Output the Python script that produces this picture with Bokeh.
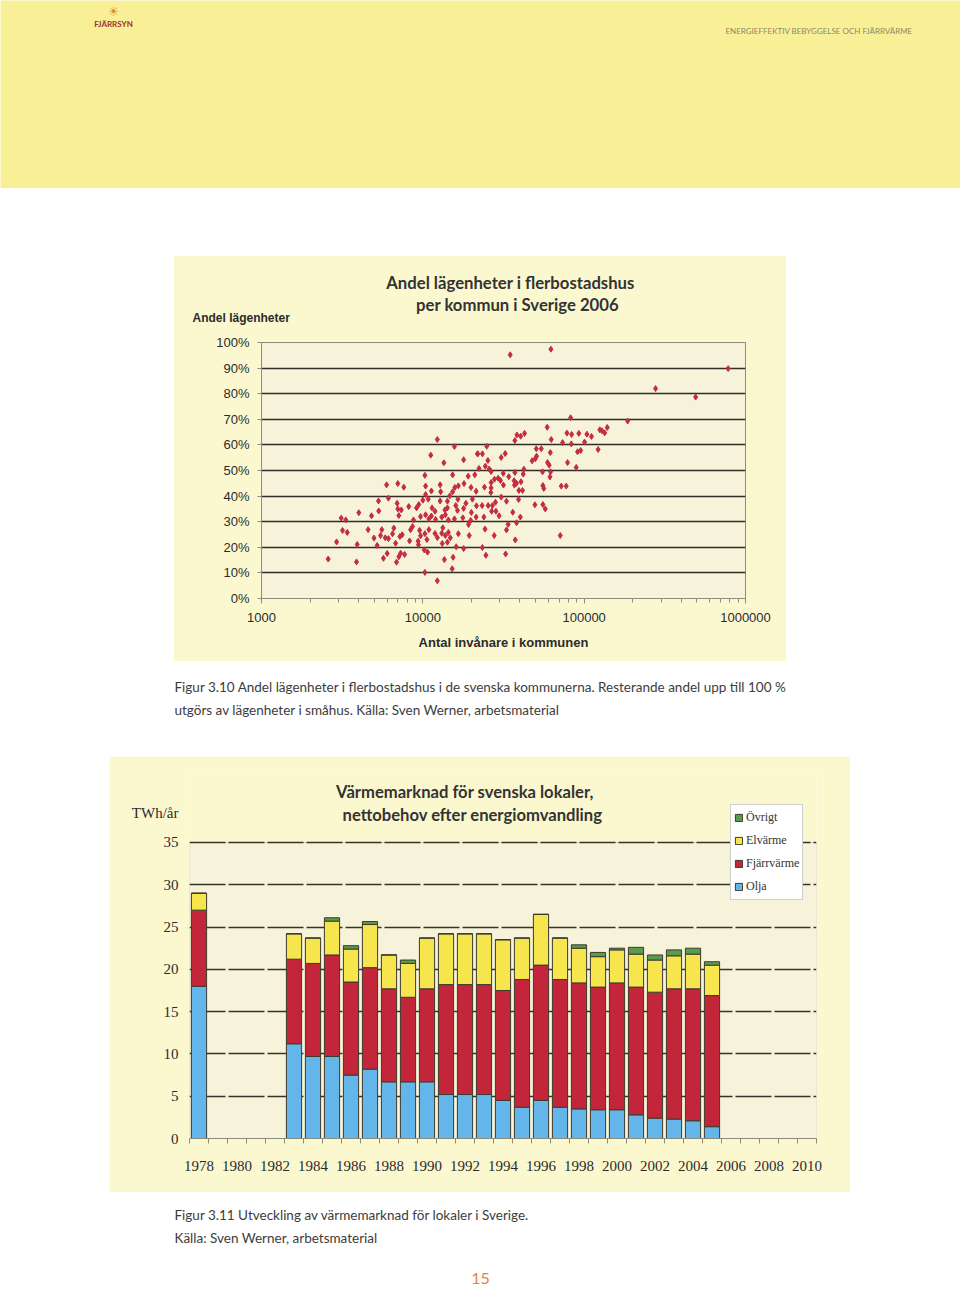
from bokeh.plotting import figure
from bokeh.models import (Range1d, FixedTicker, PrintfTickFormatter, Label, Legend,
                          LegendItem, Spacer, ColumnDataSource, BoxAnnotation)
from bokeh.layouts import column, row
from bokeh.embed import file_html
from bokeh.resources import INLINE
from bokeh.core.properties import value

# ---------------- data: scatter (inhabitants, share of flats in multi-dwelling buildings, %)
population = [
    12300, 15700, 11200, 13500, 17900, 21800, 10300, 15300, 19100, 21000,
    5960, 7000, 7620, 6120, 5310, 10400, 11300, 12800, 12900, 15800,
    16600, 15300, 18000, 19900, 21400, 10400, 10800, 12800, 14700, 14200,
    16500, 18500, 20300, 21500, 6930, 7000, 7350, 8180, 9140, 9440,
    10000, 11400, 11900, 13700, 14200, 16000, 16400, 17900, 20000, 4010,
    3120, 3330, 4810, 5330, 7100, 9680, 8750, 10400, 10900, 11300,
    12000, 13100, 13800, 14400, 15700, 17700, 19800, 19200, 21400, 3180,
    3400, 4580, 5570, 5470, 5850, 6120, 6610, 6490, 7210, 7450,
    8400, 8630, 9550, 9680, 9350, 10300, 10600, 10900, 11900, 12300,
    13100, 13300, 13800, 14400, 14800, 14200, 13200, 16600, 19400, 2920,
    3920, 4980, 5210, 6780, 8280, 9400, 10200, 10700, 16100, 17900,
    2590, 3880, 5700, 6010, 7100, 7280, 7710, 6870, 13600, 15400,
    15200, 10300, 12300,
    82400, 186000, 59000, 38300, 40400, 42700, 37200, 62500, 78200, 83600,
    92700, 104000, 111000, 125000, 129000, 134000, 139000, 73500, 83200, 100500,
    91000, 95100, 122000, 24900, 21900, 23400, 50500, 54200, 61700, 30600,
    32400, 47600, 50700, 49800, 59300, 60700, 78900, 89300, 25300, 25800,
    26500, 22300, 24400, 31500, 29300, 27800, 30300, 31600, 34100, 37200,
    42300, 41900, 36800, 38100, 40600, 37000, 55200, 61900, 61400, 55500,
    56200, 72100, 77400, 26500, 26500, 26400, 24100, 39400, 41500, 39200,
    30600, 33000, 49500, 55500, 57400, 23300, 25400, 27000, 28200, 26700,
    28400, 29700, 36100, 40200, 23900, 33800, 38100, 33000, 24300, 27700,
    37400, 71100, 23400, 24600, 32600,
    34800, 62200, 277000, 491000, 781000,
]
share = [
    62.1, 59.4, 56.0, 53.0, 54.2, 56.5, 48.1, 48.3, 47.8, 48.3,
    44.4, 44.9, 43.5, 39.2, 38.1, 43.9, 42.0, 44.4, 41.7, 43.4,
    44.0, 41.7, 44.9, 43.4, 41.9, 40.6, 38.8, 38.1, 40.1, 38.0,
    38.8, 37.2, 38.8, 36.2, 37.2, 35.0, 34.6, 35.9, 35.4, 36.7,
    38.4, 35.4, 34.1, 34.6, 35.4, 36.3, 34.4, 35.2, 33.6, 33.5,
    31.4, 30.7, 32.3, 34.2, 32.4, 32.0, 30.7, 32.7, 31.1, 32.2,
    30.9, 31.8, 32.7, 30.7, 31.1, 31.5, 30.5, 28.9, 31.8, 26.6,
    25.8, 26.9, 26.9, 24.6, 23.7, 23.4, 27.5, 25.3, 24.2, 24.9,
    26.9, 28.1, 26.6, 24.5, 22.4, 25.3, 23.0, 26.9, 25.4, 23.8,
    25.5, 27.6, 24.6, 25.8, 23.7, 22.0, 21.5, 25.3, 24.6, 22.1,
    21.1, 23.6, 20.7, 21.6, 22.5, 21.0, 19.0, 18.1, 20.2, 19.5,
    15.4, 14.3, 15.7, 17.6, 16.3, 17.7, 17.2, 14.2, 15.2, 16.1,
    11.6, 10.2, 6.9,
    70.6, 69.3, 66.9, 63.9, 63.4, 64.5, 61.7, 62.1, 64.6, 64.1,
    64.5, 64.2, 63.3, 65.9, 65.5, 64.7, 66.8, 60.9, 60.4, 61.1,
    57.3, 57.8, 58.2, 59.5, 56.5, 56.5, 58.5, 58.5, 57.0, 55.1,
    56.6, 53.8, 55.6, 54.6, 53.1, 52.1, 53.1, 51.2, 53.9, 50.6,
    49.6, 50.8, 51.7, 48.9, 47.0, 46.6, 46.1, 44.3, 47.6, 49.2,
    50.5, 48.6, 46.0, 45.0, 45.6, 44.3, 49.5, 49.5, 47.5, 44.1,
    43.0, 43.9, 43.9, 45.3, 43.2, 41.4, 43.5, 42.2, 42.2, 38.7,
    39.6, 38.0, 36.6, 36.7, 35.0, 36.3, 36.3, 36.3, 37.6, 34.1,
    34.1, 32.3, 33.7, 31.8, 31.8, 29.0, 29.6, 26.8, 27.1, 24.6,
    22.9, 24.6, 19.9, 16.9, 17.4,
    95.2, 97.4, 82.0, 78.7, 89.8,
]
scatter_x_ticks = [1000, 10000, 100000, 1000000]
scatter_y_ticks = [0, 10, 20, 30, 40, 50, 60, 70, 80, 90, 100]

# ---------------- data: heat market for Swedish premises, TWh/year
bar_years = [1978, 1983, 1984, 1985, 1986, 1987, 1988, 1989, 1990, 1991, 1992, 1993, 1994,
             1995, 1996, 1997, 1998, 1999, 2000, 2001, 2002, 2003, 2004, 2005]
olja = [18.0, 11.2, 9.7, 9.7, 7.5, 8.2, 6.7, 6.7, 6.7, 5.2, 5.2, 5.2, 4.5,
        3.7, 4.5, 3.7, 3.5, 3.4, 3.4, 2.8, 2.4, 2.3, 2.1, 1.4]
fjarrvarme = [9.0, 10.0, 11.0, 12.0, 11.0, 12.0, 11.0, 10.0, 11.0, 13.0, 13.0, 13.0, 13.0,
              15.1, 16.0, 15.1, 14.9, 14.5, 15.0, 15.1, 14.9, 15.4, 15.6, 15.5]
elvarme = [2.0, 3.0, 3.0, 4.0, 3.9, 5.1, 4.0, 4.0, 6.0, 6.0, 6.0, 6.0, 6.0,
           4.9, 6.0, 4.9, 4.1, 3.6, 3.9, 3.9, 3.8, 3.9, 4.1, 3.6]
ovrigt = [0.0, 0.0, 0.0, 0.4, 0.4, 0.35, 0.0, 0.4, 0.0, 0.0, 0.0, 0.0, 0.0,
          0.0, 0.0, 0.0, 0.4, 0.5, 0.2, 0.8, 0.6, 0.7, 0.7, 0.4]
series_names = ["Olja", "Fjärrvärme", "Elvärme", "Övrigt"]
series_colors = ["#64b5ea", "#c3263a", "#f6e54c", "#5b9b4f"]
bar_x_ticks = list(range(1978, 2011, 2))
bar_y_ticks = [0, 5, 10, 15, 20, 25, 30, 35]
bar_unit = "TWh/år"

PANEL = "#fbf8d0"
PLOTBG = "#f6f3da"
GRAY = "#8c8c80"

# ---------------- helpers
def blank(width, height, bg):
    f = figure(width=width, height=height, x_range=Range1d(0, width),
               y_range=Range1d(height, 0),
               output_backend="svg", toolbar_location=None, title=None,
               x_axis_location=None, y_axis_location=None,
               background_fill_color=bg, border_fill_color=bg,
               min_border=0, outline_line_color=None)
    f.grid.visible = False
    return f

# ---------------- header band
header = blank(960, 188, "#f8ef97")
header.text(x=[113], y=[11], text=["☀"], text_font=value("DejaVu Sans"),
            text_font_size="13px", text_color="#e08a2c",
            text_align="center", text_baseline="middle")
header.text(x=[113], y=[23], text=["FJÄRRSYN"], text_font=value("Lato"),
            text_font_style="bold", text_font_size="8px", text_color="#a2302b",
            text_align="center", text_baseline="middle")
header.text(x=[912], y=[30], text=["ENERGIEFFEKTIV BEBYGGELSE OCH FJÄRRVÄRME"],
            text_font=value("Lato"), text_font_size="8px", text_color="#8e8868",
            text_align="right", text_baseline="middle")

# ---------------- scatter chart: title strip
st = blank(612, 74, PANEL)
st.text(x=[336, 343], y=[26, 48],
        text=["Andel lägenheter i flerbostadshus", "per kommun i Sverige 2006"],
        text_font=value("Lato"), text_font_style="bold", text_font_size="16.7px",
        text_color="#333333", text_align="center", text_baseline="middle")
st.text(x=[18], y=[61], text=["Andel lägenheter"], text_font=value("Liberation Sans"),
        text_font_style="bold", text_font_size="12px", text_color="#2b2b2b",
        text_align="left", text_baseline="middle")

# ---------------- scatter chart
sp = figure(width=612, height=331, x_axis_type="log",
            x_range=Range1d(1000, 1000000), y_range=Range1d(0, 100),
            output_backend="svg", toolbar_location=None, title=None,
            background_fill_color=PLOTBG, border_fill_color=PANEL,
            min_border_left=87, min_border_right=41, min_border_top=12, min_border_bottom=63,
            outline_line_color=GRAY)
sp.scatter(population, share, marker="diamond", size=6, color="#c42d3f")
sp.xgrid.visible = False
sp.ygrid.ticker = FixedTicker(ticks=scatter_y_ticks[1:])
sp.ygrid.grid_line_color = "#2f2e27"
sp.ygrid.grid_line_width = 1.5
sp.xaxis.ticker = FixedTicker(ticks=scatter_x_ticks,
                              minor_ticks=[k * t for t in scatter_x_ticks[:-1] for k in range(2, 10)])
sp.xaxis.formatter = PrintfTickFormatter(format="%d")
sp.yaxis.ticker = FixedTicker(ticks=scatter_y_ticks)
sp.yaxis.formatter = PrintfTickFormatter(format="%d%%")
for ax in (sp.xaxis, sp.yaxis):
    ax.axis_line_color = GRAY
    ax.major_tick_line_color = GRAY
    ax.minor_tick_line_color = GRAY
    ax.major_tick_in = 0
    ax.minor_tick_in = 0
    ax.major_label_text_font = "Liberation Sans"
    ax.major_label_text_font_size = "13px"
    ax.major_label_text_color = "#2b2b2b"
sp.yaxis.minor_tick_line_color = None
sp.xaxis.major_tick_out = 5
sp.xaxis.minor_tick_out = 4
sp.yaxis.major_tick_out = 4
sp.yaxis.major_label_standoff = 8
sp.xaxis.major_label_standoff = 9
sp.xaxis.axis_label = "Antal invånare i kommunen"
sp.xaxis.axis_label_text_font = "Liberation Sans"
sp.xaxis.axis_label_text_font_style = "bold"
sp.xaxis.axis_label_text_font_size = "13px"
sp.xaxis.axis_label_text_color = "#2b2b2b"
sp.xaxis.axis_label_standoff = 10

# ---------------- caption 1
cap1 = blank(960, 95, "#ffffff")
cap1.text(x=[174, 174], y=[25, 48],
          text=["Figur 3.10 Andel lägenheter i flerbostadshus i de svenska kommunerna. Resterande andel upp till 100 %",
                "utgörs av lägenheter i småhus. Källa: Sven Werner, arbetsmaterial"],
          text_font=value("Lato"), text_font_size="13.5px", text_color="#3c3c3c",
          text_align="left", text_baseline="middle")

# ---------------- stacked bar chart (frame reaches up to hold title and legend)
bp = figure(width=741, height=436, x_range=Range1d(1977.5, 2010.5), y_range=Range1d(0, 43.51),
            output_backend="svg", toolbar_location=None, title=None,
            background_fill_color=PANEL, border_fill_color=PANEL,
            min_border_left=80, min_border_right=34, min_border_top=14, min_border_bottom=54,
            outline_line_color=None)
bp.add_layout(BoxAnnotation(bottom=bar_y_ticks[0], top=bar_y_ticks[-1], fill_color=PLOTBG,
                            fill_alpha=1, line_color=GRAY, line_width=1, level="image"))
src = ColumnDataSource(dict(year=bar_years, olja=olja, fjarr=fjarrvarme, el=elvarme, ovr=ovrigt))
rs = bp.vbar_stack(["olja", "fjarr", "el", "ovr"], x="year", width=0.8, source=src,
                   fill_color=series_colors, line_color="#3d3b2c", line_width=1)
bp.xgrid.visible = False
bp.ygrid.ticker = FixedTicker(ticks=bar_y_ticks[1:])
bp.ygrid.grid_line_color = "#35332a"
bp.ygrid.grid_line_width = 1.5
bp.ygrid.grid_line_dash = "36 3"
bp.xaxis.ticker = FixedTicker(ticks=bar_x_ticks, minor_ticks=[y + 0.5 for y in range(1977, 2011)])
bp.yaxis.ticker = FixedTicker(ticks=bar_y_ticks + [38.5])
bp.yaxis.major_label_overrides = {38.5: bar_unit}
for ax in (bp.xaxis, bp.yaxis):
    ax.axis_line_color = GRAY
    ax.major_tick_line_color = GRAY
    ax.minor_tick_line_color = GRAY
    ax.major_tick_in = 0
    ax.minor_tick_in = 0
    ax.major_label_text_font = "Liberation Serif"
    ax.major_label_text_font_size = "15px"
    ax.major_label_text_color = "#2b2b2b"
bp.xaxis.major_tick_out = 0
bp.xaxis.minor_tick_out = 5
bp.xaxis.major_label_standoff = 17
bp.yaxis.axis_line_color = None
bp.yaxis.major_tick_line_color = None
bp.yaxis.minor_tick_line_color = None
bp.yaxis.major_tick_out = 3
bp.yaxis.major_label_standoff = 8
bp.add_layout(Label(x=1991.99, y=40.91, text="Värmemarknad för svenska lokaler,",
                    text_align="center", text_baseline="middle", text_font="Lato",
                    text_font_style="bold", text_font_size="16.6px", text_color="#333333"))
bp.add_layout(Label(x=1992.4, y=38.19, text="nettobehov efter energiomvandling",
                    text_align="center", text_baseline="middle", text_font="Lato",
                    text_font_style="bold", text_font_size="16.6px", text_color="#333333"))
legend = Legend(items=[LegendItem(label=series_names[i], renderers=[rs[i]]) for i in (3, 2, 1, 0)],
                location=(541, 238), background_fill_color="#ffffff", background_fill_alpha=1,
                border_line_color="#a0a0a0", label_text_font="Liberation Serif",
                label_text_font_size="12px", label_text_color="#333333",
                glyph_width=9, glyph_height=9, label_height=19, spacing=4, padding=3,
                margin=0, label_standoff=3)
bp.add_layout(legend)

# ---------------- caption 2 + page number
cap2 = blank(960, 95, "#ffffff")
cap2.text(x=[174, 174], y=[22, 45],
          text=["Figur 3.11 Utveckling av värmemarknad för lokaler i Sverige.",
                "Källa: Sven Werner, arbetsmaterial"],
          text_font=value("Lato"), text_font_size="13.5px", text_color="#3c3c3c",
          text_align="left", text_baseline="middle")
cap2.text(x=[480], y=[86], text=["15"], text_font=value("Lato"), text_font_size="16px",
          text_color="#e0843f", text_align="center", text_baseline="middle")

scatter_block = column(row(st), row(sp), styles={"background-color": PANEL})

page = column(
    header,
    Spacer(width=960, height=68),
    row(Spacer(width=174, height=405), scatter_block),
    cap1,
    row(Spacer(width=109, height=436), bp),
    cap2,
)

open("out.html", "w").write(file_html(page, INLINE))
